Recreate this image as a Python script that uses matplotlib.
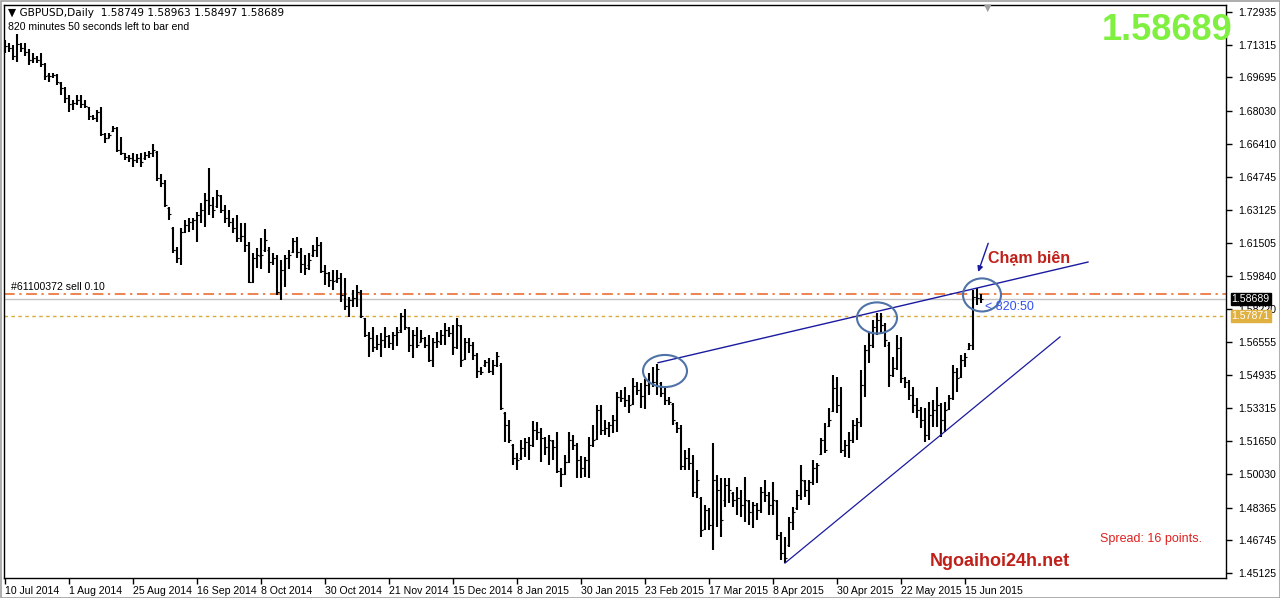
import matplotlib
matplotlib.use("Agg")
import matplotlib.pyplot as plt
from matplotlib.patches import Ellipse, Rectangle
import numpy as np

plt.rcParams['font.family'] = ['Liberation Sans', 'DejaVu Sans']

# ---------------- data (GBPUSD daily) ----------------
opens = [
    1.7115, 1.7125, 1.7115, 1.7075, 1.7135, 1.7115, 1.7095, 1.7056, 1.7065, 1.7056,
    1.7036, 1.6980, 1.6976, 1.6981, 1.6940, 1.6917, 1.6867, 1.6837, 1.6842, 1.6857,
    1.6837, 1.6820, 1.6778, 1.6768, 1.6798, 1.6689, 1.6669, 1.6704, 1.6719, 1.6609,
    1.6595, 1.6575, 1.6570, 1.6560, 1.6570, 1.6570, 1.6585, 1.6595, 1.6600, 1.6471,
    1.6446, 1.6320, 1.6223, 1.6114, 1.6074, 1.6203, 1.6238, 1.6253, 1.6263, 1.6287,
    1.6312, 1.6362, 1.6337, 1.6332, 1.6381, 1.6312, 1.6273, 1.6253, 1.6223, 1.6173,
    1.6183, 1.6139, 1.5955, 1.6074, 1.6085, 1.6114, 1.6114, 1.6054, 1.6074, 1.5906,
    1.6015, 1.6074, 1.6104, 1.6158, 1.6104, 1.6044, 1.6039, 1.6089, 1.6114, 1.6139,
    1.6010, 1.6000, 1.5965, 1.5965, 1.5975, 1.5891, 1.5836, 1.5866, 1.5876, 1.5906,
    1.5777, 1.5693, 1.5678, 1.5633, 1.5648, 1.5668, 1.5688, 1.5653, 1.5693, 1.5717,
    1.5787, 1.5727, 1.5643, 1.5693, 1.5660, 1.5678, 1.5643, 1.5568, 1.5658, 1.5658,
    1.5693, 1.5717, 1.5702, 1.5633, 1.5737, 1.5573, 1.5658, 1.5643, 1.5593, 1.5514,
    1.5544, 1.5559, 1.5514, 1.5544, 1.5544, 1.5306, 1.5246, 1.5147, 1.5083, 1.5083,
    1.5132, 1.5162, 1.5147, 1.5221, 1.5211, 1.5182, 1.5137, 1.5167, 1.5137, 1.5018,
    1.5003, 1.5063, 1.5172, 1.5147, 1.5073, 1.5033, 1.5073, 1.5147, 1.5177, 1.5321,
    1.5221, 1.5231, 1.5246, 1.5271, 1.5385, 1.5380, 1.5370, 1.5350, 1.5440, 1.5420,
    1.5390, 1.5444, 1.5454, 1.5459, 1.5454, 1.5405, 1.5370, 1.5350, 1.5256, 1.5231,
    1.5043, 1.5083, 1.5058, 1.4914, 1.4885, 1.4731, 1.4825, 1.4751, 1.4974, 1.4924,
    1.4875, 1.4949, 1.4909, 1.4875, 1.4885, 1.4850, 1.4870, 1.4815, 1.4850, 1.4825,
    1.4914, 1.4899, 1.4850, 1.4870, 1.4701, 1.4612, 1.4652, 1.4765, 1.4835, 1.4899,
    1.4969, 1.4924, 1.4964, 1.5033, 1.5103, 1.5172, 1.5241, 1.5316, 1.5430, 1.5345,
    1.5122, 1.5147, 1.5172, 1.5246, 1.5261, 1.5444, 1.5618, 1.5643, 1.5732, 1.5767,
    1.5742, 1.5643, 1.5494, 1.5529, 1.5628, 1.5479, 1.5459, 1.5395, 1.5345, 1.5321,
    1.5271, 1.5197, 1.5296, 1.5321, 1.5345, 1.5271, 1.5326, 1.5380, 1.5509, 1.5484,
    1.5568, 1.5623, 1.5643, 1.5880, 1.58749,
]
highs = [
    1.7155, 1.7140, 1.7130, 1.7184, 1.7140, 1.7140, 1.7110, 1.7090, 1.7075, 1.7090,
    1.7041, 1.6991, 1.6991, 1.6986, 1.6947, 1.6922, 1.6882, 1.6857, 1.6882, 1.6882,
    1.6857, 1.6822, 1.6783, 1.6808, 1.6822, 1.6694, 1.6694, 1.6729, 1.6724, 1.6674,
    1.6595, 1.6585, 1.6595, 1.6590, 1.6595, 1.6600, 1.6605, 1.6640, 1.6605, 1.6491,
    1.6461, 1.6327, 1.6228, 1.6129, 1.6223, 1.6263, 1.6273, 1.6273, 1.6302, 1.6347,
    1.6396, 1.6520, 1.6377, 1.6411, 1.6386, 1.6337, 1.6312, 1.6273, 1.6287, 1.6248,
    1.6248, 1.6153, 1.6099, 1.6124, 1.6173, 1.6218, 1.6129, 1.6099, 1.6089, 1.6064,
    1.6089, 1.6114, 1.6173, 1.6178, 1.6124, 1.6089, 1.6099, 1.6139, 1.6178, 1.6153,
    1.6039, 1.6005, 1.6015, 1.6015, 1.6000, 1.5975, 1.5881, 1.5915, 1.5940, 1.5915,
    1.5777, 1.5707, 1.5732, 1.5693, 1.5702, 1.5732, 1.5693, 1.5707, 1.5732, 1.5801,
    1.5821, 1.5732, 1.5717, 1.5732, 1.5717, 1.5683, 1.5693, 1.5678, 1.5707, 1.5717,
    1.5752, 1.5732, 1.5742, 1.5777, 1.5742, 1.5678, 1.5678, 1.5658, 1.5603, 1.5534,
    1.5568, 1.5578, 1.5568, 1.5608, 1.5554, 1.5311, 1.5271, 1.5152, 1.5107, 1.5172,
    1.5182, 1.5187, 1.5266, 1.5261, 1.5231, 1.5187, 1.5197, 1.5172, 1.5211, 1.5033,
    1.5098, 1.5211, 1.5197, 1.5157, 1.5093, 1.5088, 1.5187, 1.5246, 1.5345, 1.5345,
    1.5271, 1.5261, 1.5296, 1.5410, 1.5420, 1.5435, 1.5395, 1.5479, 1.5459, 1.5454,
    1.5474, 1.5504, 1.5534, 1.5549, 1.5459, 1.5430, 1.5385, 1.5355, 1.5261, 1.5246,
    1.5122, 1.5132, 1.5098, 1.5023, 1.4890, 1.4850, 1.4835, 1.5157, 1.4998, 1.4984,
    1.4984, 1.4984, 1.4914, 1.4939, 1.4924, 1.4989, 1.4875, 1.4865, 1.4860, 1.4939,
    1.4974, 1.4914, 1.4964, 1.4875, 1.4716, 1.4691, 1.4790, 1.4840, 1.4924, 1.5048,
    1.4974, 1.4974, 1.5073, 1.5058, 1.5182, 1.5256, 1.5331, 1.5494, 1.5484, 1.5435,
    1.5172, 1.5211, 1.5271, 1.5281, 1.5519, 1.5643, 1.5707, 1.5767, 1.5801, 1.5801,
    1.5752, 1.5658, 1.5583, 1.5693, 1.5683, 1.5484, 1.5469, 1.5435, 1.5380, 1.5335,
    1.5331, 1.5360, 1.5370, 1.5435, 1.5355, 1.5360, 1.5395, 1.5544, 1.5529, 1.5593,
    1.5603, 1.5653, 1.5915, 1.5925, 1.58963,
]
lows = [
    1.7090, 1.7095, 1.7056, 1.7046, 1.7095, 1.7075, 1.7031, 1.7041, 1.7041, 1.7021,
    1.6956, 1.6947, 1.6966, 1.6932, 1.6882, 1.6842, 1.6798, 1.6808, 1.6832, 1.6817,
    1.6817, 1.6758, 1.6758, 1.6748, 1.6679, 1.6644, 1.6669, 1.6699, 1.6600, 1.6585,
    1.6560, 1.6550, 1.6525, 1.6545, 1.6525, 1.6560, 1.6570, 1.6575, 1.6456, 1.6426,
    1.6327, 1.6263, 1.6099, 1.6049, 1.6039, 1.6198, 1.6203, 1.6213, 1.6153, 1.6248,
    1.6228, 1.6287, 1.6273, 1.6322, 1.6297, 1.6248, 1.6228, 1.6198, 1.6153, 1.6153,
    1.6104, 1.5950, 1.5950, 1.6025, 1.6020, 1.6104, 1.6000, 1.6039, 1.5891, 1.5866,
    1.5930, 1.6020, 1.6099, 1.6074, 1.6000, 1.5990, 1.6015, 1.6079, 1.6079, 1.6000,
    1.5940, 1.5930, 1.5915, 1.5950, 1.5856, 1.5816, 1.5782, 1.5831, 1.5831, 1.5777,
    1.5683, 1.5583, 1.5608, 1.5618, 1.5583, 1.5628, 1.5628, 1.5618, 1.5638, 1.5702,
    1.5717, 1.5608, 1.5578, 1.5628, 1.5658, 1.5628, 1.5559, 1.5534, 1.5628, 1.5643,
    1.5643, 1.5683, 1.5593, 1.5623, 1.5534, 1.5568, 1.5603, 1.5568, 1.5479, 1.5494,
    1.5534, 1.5504, 1.5494, 1.5534, 1.5321, 1.5162, 1.5157, 1.5048, 1.5023, 1.5073,
    1.5088, 1.5073, 1.5137, 1.5172, 1.5063, 1.5098, 1.5048, 1.5073, 1.5008, 1.4939,
    1.4998, 1.5058, 1.5122, 1.4984, 1.4984, 1.4989, 1.4984, 1.5137, 1.5172, 1.5197,
    1.5197, 1.5187, 1.5207, 1.5211, 1.5360, 1.5335, 1.5306, 1.5345, 1.5395, 1.5331,
    1.5326, 1.5395, 1.5435, 1.5395, 1.5385, 1.5345, 1.5345, 1.5246, 1.5207, 1.5023,
    1.5023, 1.5023, 1.4890, 1.4885, 1.4691, 1.4726, 1.4726, 1.4627, 1.4741, 1.4691,
    1.4840, 1.4860, 1.4840, 1.4800, 1.4790, 1.4765, 1.4751, 1.4736, 1.4775, 1.4810,
    1.4865, 1.4800, 1.4800, 1.4677, 1.4577, 1.4562, 1.4642, 1.4726, 1.4825, 1.4875,
    1.4890, 1.4850, 1.4949, 1.4959, 1.5098, 1.5107, 1.5236, 1.5311, 1.5306, 1.5107,
    1.5088, 1.5083, 1.5157, 1.5172, 1.5236, 1.5385, 1.5554, 1.5628, 1.5693, 1.5702,
    1.5633, 1.5435, 1.5484, 1.5519, 1.5454, 1.5430, 1.5370, 1.5306, 1.5281, 1.5231,
    1.5162, 1.5172, 1.5236, 1.5236, 1.5187, 1.5211, 1.5321, 1.5370, 1.5410, 1.5479,
    1.5534, 1.5618, 1.5618, 1.5841, 1.58497,
]
closes = [
    1.7125, 1.7115, 1.7075, 1.7135, 1.7115, 1.7095, 1.7056, 1.7065, 1.7056, 1.7036,
    1.6976, 1.6976, 1.6981, 1.6947, 1.6917, 1.6867, 1.6837, 1.6842, 1.6857, 1.6837,
    1.6827, 1.6778, 1.6768, 1.6798, 1.6689, 1.6669, 1.6684, 1.6719, 1.6609, 1.6595,
    1.6575, 1.6570, 1.6560, 1.6570, 1.6550, 1.6585, 1.6595, 1.6609, 1.6471, 1.6446,
    1.6337, 1.6292, 1.6114, 1.6074, 1.6203, 1.6238, 1.6253, 1.6263, 1.6287, 1.6312,
    1.6362, 1.6337, 1.6312, 1.6386, 1.6312, 1.6273, 1.6253, 1.6223, 1.6173, 1.6183,
    1.6139, 1.5955, 1.6074, 1.6089, 1.6090, 1.6163, 1.6054, 1.6074, 1.5906, 1.6015,
    1.6074, 1.6089, 1.6158, 1.6104, 1.6044, 1.6025, 1.6064, 1.6114, 1.6139, 1.6010,
    1.6000, 1.5965, 1.5960, 1.5975, 1.5891, 1.5836, 1.5866, 1.5876, 1.5906, 1.5787,
    1.5693, 1.5678, 1.5633, 1.5648, 1.5668, 1.5688, 1.5653, 1.5693, 1.5707, 1.5787,
    1.5732, 1.5643, 1.5693, 1.5643, 1.5678, 1.5643, 1.5568, 1.5658, 1.5663, 1.5693,
    1.5717, 1.5702, 1.5633, 1.5742, 1.5568, 1.5658, 1.5643, 1.5593, 1.5514, 1.5509,
    1.5559, 1.5514, 1.5544, 1.5588, 1.5331, 1.5246, 1.5172, 1.5083, 1.5073, 1.5132,
    1.5162, 1.5147, 1.5221, 1.5211, 1.5182, 1.5137, 1.5172, 1.5137, 1.5018, 1.5003,
    1.5063, 1.5172, 1.5147, 1.5073, 1.5033, 1.5073, 1.5147, 1.5172, 1.5321, 1.5221,
    1.5231, 1.5246, 1.5271, 1.5385, 1.5380, 1.5370, 1.5345, 1.5440, 1.5420, 1.5390,
    1.5444, 1.5454, 1.5459, 1.5524, 1.5405, 1.5370, 1.5360, 1.5271, 1.5231, 1.5043,
    1.5083, 1.5058, 1.4914, 1.4974, 1.4726, 1.4825, 1.4751, 1.4974, 1.4924, 1.4775,
    1.4949, 1.4924, 1.4875, 1.4885, 1.4850, 1.4875, 1.4815, 1.4850, 1.4825, 1.4914,
    1.4899, 1.4850, 1.4875, 1.4701, 1.4612, 1.4587, 1.4765, 1.4815, 1.4899, 1.4974,
    1.4924, 1.4964, 1.5033, 1.5048, 1.5172, 1.5122, 1.5271, 1.5430, 1.5345, 1.5122,
    1.5147, 1.5172, 1.5246, 1.5261, 1.5444, 1.5618, 1.5643, 1.5732, 1.5767, 1.5742,
    1.5668, 1.5494, 1.5529, 1.5628, 1.5479, 1.5459, 1.5395, 1.5345, 1.5321, 1.5271,
    1.5197, 1.5296, 1.5321, 1.5345, 1.5271, 1.5321, 1.5380, 1.5509, 1.5479, 1.5568,
    1.5583, 1.5643, 1.5880, 1.5875, 1.58689,
]

date_labels = ["10 Jul 2014", "1 Aug 2014", "25 Aug 2014", "16 Sep 2014", "8 Oct 2014",
               "30 Oct 2014", "21 Nov 2014", "15 Dec 2014", "8 Jan 2015", "30 Jan 2015",
               "23 Feb 2015", "17 Mar 2015", "8 Apr 2015", "30 Apr 2015", "22 May 2015",
               "15 Jun 2015"]
price_ticks = [1.72935, 1.71315, 1.69695, 1.68030, 1.66410, 1.64745, 1.63125, 1.61505,
               1.59840, 1.58220, 1.56555, 1.54935, 1.53315, 1.51650, 1.50030, 1.48365,
               1.46745, 1.45125]

bid_price = 1.58689
pending_price = 1.57871
sell_order_price = 1.58956

# trend lines: (bar index, price)
upper_trend_idx = [163.25, 270.75]
upper_trend_px = [1.5555, 1.6054]
lower_trend_idx = [195.0, 263.75]
lower_trend_px = [1.4562, 1.5683]

# highlighted touch points: (bar index, price)
circle_idx = [165.0, 218.0, 244.25]
circle_px = [1.5514, 1.5777, 1.5891]

# ---------------- figure ----------------
W, H = 1280, 598
fig = plt.figure(figsize=(W / 100, H / 100), dpi=100)
fig.patch.set_facecolor("white")
ax = fig.add_axes([4 / W, 1 - 578 / H, (1226 - 4) / W, (578 - 5) / H])

n = len(opens)
x = np.arange(n)
o = np.array(opens); h = np.array(highs); l = np.array(lows); c = np.array(closes)

ax.vlines(x, l, h, color="black", linewidth=1.5, zorder=3)
ax.hlines(o, x - 0.45, x, color="black", linewidth=0.8, zorder=3)
ax.hlines(c, x, x + 0.45, color="black", linewidth=0.8, zorder=3)

ax.set_xlim(-0.25, 305.25)
ax.set_ylim(1.4488, 1.7328)

# horizontal levels
ax.axhline(sell_order_price, color="#e8621e", linewidth=1.1, dashes=(7, 3, 1.5, 3), zorder=2)
ax.axhline(bid_price, color="#c4c4c4", linewidth=1.0, zorder=2)
ax.axhline(pending_price, color="#d9aa3a", linewidth=1.0, dashes=(2.5, 2.5), zorder=2)

# trend lines
ax.plot(upper_trend_idx, upper_trend_px, color="#1a1aa0", linewidth=1.0, zorder=4)
ax.plot(lower_trend_idx, lower_trend_px, color="#1a1aa0", linewidth=0.9, zorder=4)

# ellipses
ell_w = [11.0, 10.0, 9.5]
ell_h = [0.0159, 0.0154, 0.0164]
for ci, cp, ew, eh in zip(circle_idx, circle_px, ell_w, ell_h):
    ax.add_patch(Ellipse((ci, cp), ew, eh, fill=False, edgecolor="#4f72a8",
                         linewidth=1.5, zorder=5))

# arrow
ax.annotate("", xy=(243.3, 1.6005), xytext=(245.8, 1.6147),
            arrowprops=dict(arrowstyle="-|>", color="#1a1aa0", lw=1.0,
                            mutation_scale=8, shrinkA=0, shrinkB=0), zorder=6)

# axes styling
for s in ax.spines.values():
    s.set_color("black")
    s.set_linewidth(1.0)
ax.yaxis.tick_right()
ax.set_yticks(price_ticks)
ax.set_yticklabels([f"{p:.5f}" for p in price_ticks])
ax.tick_params(axis="y", direction="out", length=4, width=1, pad=5,
               labelsize=7.6, colors="black")
ax.set_xticks(list(range(0, 16 * len(date_labels), 16)))
ax.set_xticklabels(date_labels, ha="left")
ax.tick_params(axis="x", direction="out", length=4, width=1, pad=2,
               labelsize=7.6, colors="black")

# price boxes on the right axis
ax.annotate(f"{bid_price:.5f}", xy=(1.0, bid_price), xycoords=("axes fraction", "data"),
            xytext=(4, 0), textcoords="offset points", va="center", ha="left",
            fontsize=7.6, color="white", zorder=10, annotation_clip=False,
            bbox=dict(boxstyle="square,pad=0.1", facecolor="black", edgecolor="black"))
ax.annotate(f"{pending_price:.5f}", xy=(1.0, pending_price), xycoords=("axes fraction", "data"),
            xytext=(4, 0), textcoords="offset points", va="center", ha="left",
            fontsize=7.6, color="white", zorder=10, annotation_clip=False,
            bbox=dict(boxstyle="square,pad=0.1", facecolor="#e0b040", edgecolor="#e0b040"))

# texts
fig.text(8 / W, 1 - 13 / H, "▼ GBPUSD,Daily  1.58749 1.58963 1.58497 1.58689",
         fontsize=7.6, va="center", ha="left", family=["DejaVu Sans"])
fig.text(8 / W, 1 - 27 / H, "820 minutes 50 seconds left to bar end",
         fontsize=7.6, va="center", ha="left")
fig.text(1232 / W, 1 - 31 / H, "1.58689", fontsize=26, color="#80f040",
         fontweight="bold", ha="right", va="center")
ax.text(1.5, sell_order_price + 0.0012, "#61100372 sell 0.10", fontsize=7.6,
        va="bottom", ha="left")
fig.text(988 / W, 1 - 258 / H, "Chạm biên", fontsize=11.5, fontweight="bold",
         color="#c0201a", ha="left", va="center")
fig.text(985 / W, 1 - 307 / H, "< 820:50", fontsize=9, color="#3050f0",
         ha="left", va="center")
fig.text(1100 / W, 1 - 539 / H, "Spread: 16 points.", fontsize=9, color="#e02020",
         ha="left", va="center")
fig.text(930 / W, 1 - 561 / H, "Ngoaihoi24h.net", fontsize=13, fontweight="bold",
         color="#c0201a", ha="left", va="center")

# small chart-shift marker at the top
fig.text(988 / W, 1 - 8 / H, "▼", fontsize=7, color="#a0a0a0", ha="center", va="center",
         family=["DejaVu Sans"])

# outer window frame
fig.add_artist(Rectangle((0.5 / W, 0.5 / H), 1 - 1 / W, 1 - 1 / H, transform=fig.transFigure,
                         fill=False, edgecolor="#a0a0a0", linewidth=1.2))

fig.savefig("out.png", dpi=100)
